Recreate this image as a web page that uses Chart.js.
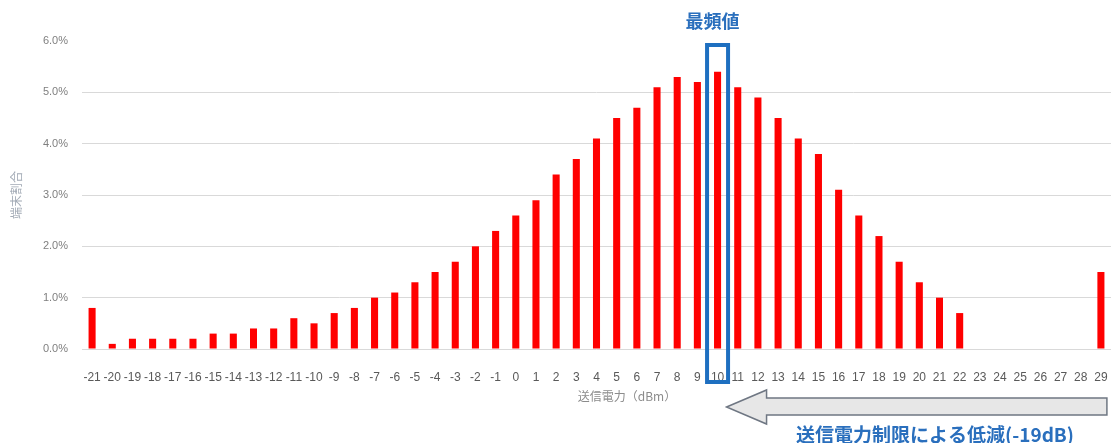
<!DOCTYPE html>
<html>
<head>
<meta charset="utf-8">
<script src="https://cdn.jsdelivr.net/npm/chart.js@4"></script>
<style>
  html, body { margin: 0; padding: 0; background: #fff; }
  #wrap { width: 1111px; height: 443px; }
</style>
</head>
<body>
<div id="wrap"><canvas id="chart"></canvas></div>
<script>
// 送信電力 (dBm) のカテゴリ
const categories = ['-21', '-20', '-19', '-18', '-17', '-16', '-15', '-14', '-13', '-12', '-11', '-10', '-9', '-8', '-7', '-6', '-5', '-4', '-3', '-2', '-1',
  '0', '1', '2', '3', '4', '5', '6', '7', '8', '9', '10', '11', '12', '13', '14', '15', '16', '17', '18', '19', '20', '21', '22', '23', '24', '25', '26', '27', '28', '29'];
// 端末割合 (%)
const shareValues = [0.8, 0.1, 0.2, 0.2, 0.2, 0.2, 0.3, 0.3, 0.4, 0.4, 0.6, 0.5, 0.7, 0.8, 1.0, 1.1, 1.3, 1.5, 1.7, 2.0, 2.3,
  2.6, 2.9, 3.4, 3.7, 4.1, 4.5, 4.7, 5.1, 5.3, 5.2, 5.4, 5.1, 4.9, 4.5, 4.1, 3.8, 3.1, 2.6, 2.2, 1.7, 1.3, 1.0, 0.7, 0, 0, 0, 0, 0, 0, 1.5];
const yTicks = [0, 1, 2, 3, 4, 5, 6];
const modeCategory = '10';
const reductionFrom = '29';

const BLUE = '#2a6fbd';
const JP = '"Noto Sans CJK JP", "Noto Sans", sans-serif';

// 注釈（最頻値の枠、矢印、テキスト）
const annotations = {
  id: 'annotations',
  afterDraw(chart) {
    const { ctx, chartArea, scales } = chart;
    const x = scales.x;
    const modeX = x.getPixelForValue(categories.indexOf(modeCategory));
    const endX = x.getPixelForValue(categories.indexOf(reductionFrom));
    const b = chartArea.bottom;
    ctx.save();

    // x軸タイトル
    ctx.fillStyle = '#8c8c8c';
    ctx.font = '12px ' + JP;
    ctx.textAlign = 'center';
    ctx.textBaseline = 'middle';
    ctx.fillText('送信電力（dBm）', 627, b + 47);

    // 最頻値の枠
    ctx.strokeStyle = '#1e6fc0';
    ctx.lineWidth = 4;
    ctx.strokeRect(modeX - 10.5, chartArea.top + 4, 21, b + 29 - chartArea.top);

    // 最頻値ラベル
    ctx.fillStyle = BLUE;
    ctx.font = 'bold 18px ' + JP;
    ctx.textBaseline = 'middle';
    ctx.fillText('最頻値', modeX - 5, 21);

    // 矢印
    const tipX = modeX + 9;
    const headX = tipX + 40;
    const right = endX + 6;
    const cy = b + 58;
    ctx.beginPath();
    ctx.moveTo(tipX, cy);
    ctx.lineTo(headX, cy - 17);
    ctx.lineTo(headX, cy - 9);
    ctx.lineTo(right, cy - 9);
    ctx.lineTo(right, cy + 8);
    ctx.lineTo(headX, cy + 8);
    ctx.lineTo(headX, cy + 17);
    ctx.closePath();
    ctx.fillStyle = '#e7e7e7';
    ctx.fill();
    ctx.strokeStyle = '#6f7783';
    ctx.lineWidth = 1.5;
    ctx.stroke();

    // 低減テキスト
    ctx.fillStyle = BLUE;
    ctx.font = 'bold 19px ' + JP;
    ctx.textAlign = 'left';
    ctx.fillText('送信電力制限による低減(-19dB)', 796, b + 86);
    ctx.restore();
  }
};

new Chart(document.getElementById('chart'), {
  type: 'bar',
  data: {
    labels: categories,
    datasets: [{
      data: shareValues,
      backgroundColor: '#ff0000',
      barPercentage: 0.35,
      categoryPercentage: 1
    }]
  },
  options: {
    responsive: true,
    maintainAspectRatio: false,
    animation: false,
    layout: { padding: { top: 41, right: -1, left: 0, bottom: 0 } },
    plugins: {
      legend: { display: false },
      tooltip: { enabled: false }
    },
    scales: {
      x: {
        grid: { display: false },
        border: { display: false },
        ticks: {
          autoSkip: false,
          maxRotation: 0,
          minRotation: 0,
          padding: 13,
          color: '#595959',
          font: { size: 12, family: '"Liberation Sans", Arial, sans-serif' }
        },
        afterFit(scale) {
          scale.height = 94;
          scale.paddingLeft = 0;
          scale.paddingRight = 0;
        }
      },
      y: {
        min: 0,
        max: 6,
        afterBuildTicks(scale) { scale.ticks = yTicks.map(v => ({ value: v })); },
        grid: {
          drawTicks: false,
          color: c => (c.tick && c.tick.value === 6 ? 'rgba(0,0,0,0)' : '#d9d9d9'),
          lineWidth: 1
        },
        border: { display: false },
        ticks: {
          padding: 14,
          color: '#7f7f7f',
          font: { size: 11, family: '"Liberation Sans", Arial, sans-serif' },
          callback: v => v.toFixed(1) + '%'
        },
        title: {
          display: true,
          text: '端末割合',
          color: '#a3abb6',
          font: { size: 12, family: JP },
          padding: { top: 9, bottom: 8 }
        },
        afterFit(scale) { scale.width = 82; }
      }
    }
  },
  plugins: [annotations]
});
</script>
</body>
</html>
